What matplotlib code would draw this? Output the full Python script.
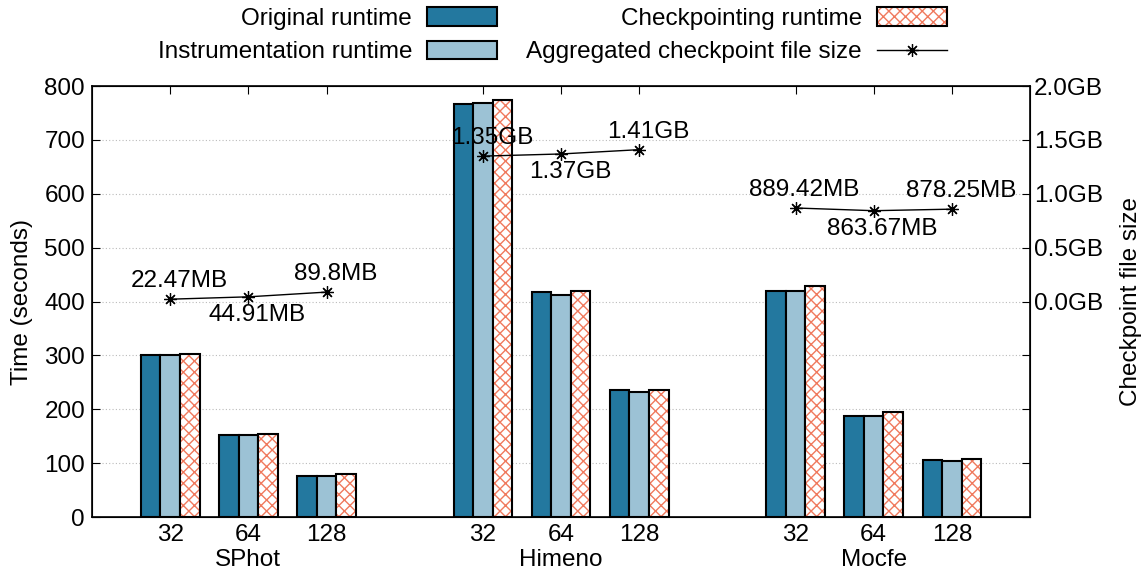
import numpy as np
import matplotlib.pyplot as plt
from matplotlib.patches import Patch
from matplotlib.lines import Line2D
from matplotlib.ticker import FuncFormatter

plt.rcParams['font.family'] = ['Liberation Sans', 'DejaVu Sans']
plt.rcParams['font.size'] = 17.5
plt.rcParams['hatch.linewidth'] = 1.0

# data
benchmarks = ['SPhot', 'Himeno', 'Mocfe']
procs = ['32', '64', '128']
original = [301, 152, 77, 766, 417, 236, 420, 188, 105]
instrumented = [301, 152, 77, 768, 412, 232, 420, 188, 104]
checkpointing = [303, 154, 79, 774, 419, 236, 428, 195, 107]
ckpt_size_mb = [22.47, 44.91, 89.8, 1.35 * 1024, 1.37 * 1024, 1.41 * 1024,
                889.42, 863.67, 878.25]
size_labels = ['22.47MB', '44.91MB', '89.8MB', '1.35GB', '1.37GB', '1.41GB',
               '889.42MB', '863.67MB', '878.25MB']

c_orig = '#23789f'
c_inst = '#9cc2d5'
c_hatch = '#f07a5e'


def main():
    fig = plt.figure(figsize=(11.46, 5.74), dpi=100)
    ax = fig.add_axes([0.0803, 0.0993, 0.8185, 0.7507])

    x = np.array([4 * g + i for g in range(len(benchmarks)) for i in range(len(procs))], dtype=float)
    w = 0.25

    ax.bar(x - w, original, w, color=c_orig, edgecolor='black', linewidth=1.5, zorder=3)
    ax.bar(x, instrumented, w, color=c_inst, edgecolor='black', linewidth=1.5, zorder=3)
    ax.bar(x + w, checkpointing, w, color='white', edgecolor=c_hatch, hatch='xxx',
           linewidth=0, zorder=3)
    ax.bar(x + w, checkpointing, w, fill=False, edgecolor='black', linewidth=1.5, zorder=3)

    ax.set_xlim(-1, 11)
    ax.set_ylim(0, 800)
    ax.set_yticks(np.arange(0, 801, 100))
    ax.set_xticks(x)
    ax.set_xticklabels(procs * len(benchmarks))
    ax.tick_params(axis='x', direction='in', top=True, length=6, pad=5)
    ax.tick_params(axis='y', direction='in', length=6, pad=5)
    ax.grid(axis='y', linestyle=(0, (1, 2)), color='#bbbbbb', linewidth=0.8, zorder=0)
    ax.set_ylabel('Time (seconds)', labelpad=8)
    for s in ax.spines.values():
        s.set_linewidth(1.2)

    for g, name in enumerate(benchmarks):
        ax.text(4 * g + 1, -0.1, name, transform=ax.get_xaxis_transform(),
                ha='center', va='center')

    # file size on right axis
    ax2 = ax.twinx()
    ax2.set_ylim(-2, 2)
    ax2.set_yticks(np.arange(-2, 2.01, 0.5))
    ax2.yaxis.set_major_formatter(FuncFormatter(lambda v, p: '' if v < -1e-9 else '%.1fGB' % v))
    ax2.tick_params(axis='y', direction='in', length=6, pad=3)
    ax2.set_ylabel('Checkpoint file size', labelpad=12)

    size_gb = np.array(ckpt_size_mb) / 1024
    for g in range(len(benchmarks)):
        sl = slice(3 * g, 3 * g + 3)
        ax2.plot(x[sl], size_gb[sl], color='black', linewidth=1, marker=(8, 2, 0),
                 markersize=9, markeredgewidth=0.9, zorder=4)
    for i, (xi, yi) in enumerate(zip(x, size_gb)):
        dy = -13 if i % 3 == 1 else 13
        ax2.annotate(size_labels[i], (xi, yi), xytext=(6.5, dy), textcoords='offset points',
                     ha='center', va='center')

    handles = [
        Patch(facecolor=c_orig, edgecolor='black', linewidth=1.5),
        Patch(facecolor=c_inst, edgecolor='black', linewidth=1.5),
        (Patch(facecolor='white', edgecolor=c_hatch, hatch='xxx', linewidth=0),
         Patch(fill=False, edgecolor='black', linewidth=1.5)),
        Line2D([], [], color='black', linewidth=1, marker=(8, 2, 0), markersize=9,
               markeredgewidth=0.9),
    ]
    labels = ['Original runtime', 'Instrumentation runtime', 'Checkpointing runtime',
              'Aggregated checkpoint file size']
    fig.legend(handles, labels, ncol=2, loc='upper center', bbox_to_anchor=(0.482, 1.026),
               frameon=False, markerfirst=False, handlelength=2.9, handleheight=0.8,
               columnspacing=1.2, labelspacing=0.45, handletextpad=0.6)

    fig.savefig('out.png', dpi=100)


if __name__ == '__main__':
    main()
